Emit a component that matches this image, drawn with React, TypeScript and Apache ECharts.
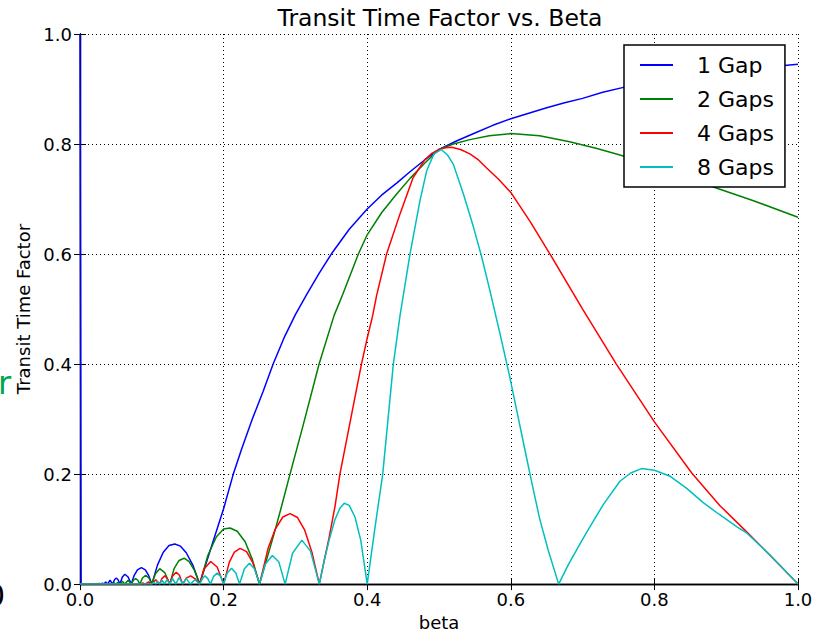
import React, { useEffect, useRef } from 'react';
import * as echarts from 'echarts';

const seriesNames = ['1 Gap', '2 Gaps', '4 Gaps', '8 Gaps'];
const seriesColors = ['#0000ff', '#008000', '#ff0000', '#00bfbf'];
const tickLabels = ['0.0', '0.2', '0.4', '0.6', '0.8', '1.0'];

// [beta, transit time factor]
const gap1: [number, number][] = [
  [0, 1], [0.0015, 0], [0.024, 0], [0.027, 0.001], [0.0294, 0], [0.0313, 0.002], [0.0333, 0],
  [0.0357, 0.004], [0.0385, 0], [0.0418, 0.007], [0.0455, 0], [0.048, 0.008], [0.0505, 0.011],
  [0.053, 0.008], [0.0556, 0], [0.059, 0.013], [0.0625, 0.018], [0.067, 0.013], [0.0714, 0],
  [0.0755, 0.016], [0.08, 0.026], [0.0855, 0.03], [0.091, 0.026], [0.0955, 0.016], [0.1, 0],
  [0.108, 0.035], [0.116, 0.058], [0.124, 0.07], [0.132, 0.073], [0.14, 0.069], [0.148, 0.057],
  [0.157, 0.035], [0.1667, 0], [0.175, 0.035], [0.185, 0.076], [0.2, 0.137], [0.2135, 0.2],
  [0.225, 0.245], [0.24, 0.3], [0.255, 0.35], [0.269, 0.4], [0.285, 0.45], [0.3, 0.49],
  [0.316, 0.527], [0.333, 0.565], [0.35, 0.6], [0.375, 0.645], [0.4, 0.682], [0.42, 0.707],
  [0.441, 0.729], [0.46, 0.75], [0.48, 0.771], [0.5, 0.79], [0.525, 0.806], [0.55, 0.82],
  [0.575, 0.834], [0.6, 0.846], [0.625, 0.856], [0.65, 0.866], [0.675, 0.875], [0.7, 0.883],
  [0.728, 0.894], [0.757, 0.903], [0.8, 0.913], [0.85, 0.924], [0.9, 0.932], [0.95, 0.939],
  [1, 0.945],
];

const gap2: [number, number][] = [
  [0, 0], [0.045, 0], [0.0475, 0.002], [0.05, 0], [0.053, 0.003], [0.0556, 0], [0.059, 0.005],
  [0.0625, 0], [0.067, 0.007], [0.0714, 0], [0.0745, 0.007], [0.0775, 0.01], [0.0805, 0.007],
  [0.0833, 0], [0.087, 0.011], [0.0915, 0.016], [0.096, 0.011], [0.1, 0], [0.105, 0.019],
  [0.111, 0.028], [0.118, 0.021], [0.125, 0], [0.131, 0.028], [0.138, 0.043], [0.145, 0.047],
  [0.152, 0.041], [0.159, 0.026], [0.1667, 0], [0.178, 0.052], [0.19, 0.086], [0.2, 0.1],
  [0.209, 0.102], [0.219, 0.096], [0.23, 0.077], [0.24, 0.045], [0.25, 0], [0.26, 0.045],
  [0.27, 0.09], [0.28, 0.138], [0.2925, 0.2], [0.31, 0.285], [0.333, 0.4], [0.3538, 0.488],
  [0.366, 0.527], [0.3877, 0.6], [0.4, 0.635], [0.42, 0.675], [0.441, 0.709], [0.46, 0.738],
  [0.48, 0.765], [0.5, 0.79], [0.52, 0.8], [0.543, 0.808], [0.57, 0.815], [0.6, 0.819],
  [0.64, 0.815], [0.682, 0.804], [0.72, 0.792], [0.752, 0.78], [0.8, 0.761], [0.85, 0.737],
  [0.877, 0.724], [0.938, 0.697], [1, 0.667],
];

const gap4: [number, number][] = [
  [0, 0], [0.085, 0], [0.0875, 0.002], [0.0909, 0], [0.0955, 0.004], [0.1, 0], [0.1055, 0.008],
  [0.111, 0], [0.114, 0.01], [0.118, 0.015], [0.1215, 0.01], [0.125, 0], [0.129, 0.015],
  [0.134, 0.0215], [0.1385, 0.016], [0.1429, 0], [0.148, 0.011], [0.154, 0.015], [0.16, 0.01],
  [0.1667, 0], [0.1725, 0.027], [0.182, 0.041], [0.191, 0.031], [0.2, 0], [0.208, 0.04],
  [0.215, 0.058], [0.223, 0.065], [0.232, 0.059], [0.241, 0.038], [0.25, 0], [0.262, 0.065],
  [0.272, 0.1], [0.2825, 0.122], [0.2925, 0.128], [0.303, 0.121], [0.313, 0.098], [0.323, 0.058],
  [0.3333, 0], [0.34, 0.042], [0.347, 0.085], [0.355, 0.14], [0.362, 0.2], [0.377, 0.3],
  [0.392, 0.4], [0.4, 0.447], [0.4076, 0.488], [0.413, 0.524], [0.427, 0.6], [0.4457, 0.673],
  [0.464, 0.739], [0.48, 0.771], [0.49, 0.783], [0.5, 0.79], [0.509, 0.793], [0.5177, 0.794],
  [0.53, 0.79], [0.543, 0.782], [0.555, 0.771], [0.566, 0.757], [0.583, 0.736], [0.6, 0.712],
  [0.627, 0.659], [0.6546, 0.6], [0.7, 0.5], [0.747, 0.4], [0.8, 0.295], [0.852, 0.202],
  [0.891, 0.143], [0.9285, 0.095], [0.965, 0.047], [1, 0],
];

const gap8: [number, number][] = [
  [0, 0], [0.1, 0], [0.1027, 0.003], [0.1053, 0], [0.108, 0.005], [0.111, 0], [0.1143, 0.007],
  [0.1176, 0], [0.1213, 0.008], [0.125, 0], [0.129, 0.01], [0.1333, 0], [0.138, 0.012],
  [0.1429, 0], [0.148, 0.01], [0.1538, 0], [0.16, 0.008], [0.1667, 0], [0.1705, 0.01],
  [0.174, 0.015], [0.178, 0.01], [0.1818, 0], [0.186, 0.014], [0.191, 0.02], [0.196, 0.014],
  [0.2, 0], [0.205, 0.02], [0.211, 0.029], [0.217, 0.02], [0.2222, 0], [0.229, 0.028],
  [0.236, 0.038], [0.243, 0.028], [0.25, 0], [0.258, 0.036], [0.268, 0.052], [0.277, 0.04],
  [0.2857, 0], [0.296, 0.056], [0.309, 0.08], [0.321, 0.06], [0.3333, 0], [0.34, 0.042],
  [0.347, 0.08], [0.355, 0.117], [0.362, 0.138], [0.368, 0.147], [0.375, 0.143], [0.383, 0.122],
  [0.391, 0.08], [0.4, 0], [0.41, 0.095], [0.4216, 0.2], [0.429, 0.3], [0.4364, 0.4],
  [0.4457, 0.488], [0.4596, 0.6], [0.4735, 0.697], [0.483, 0.752], [0.493, 0.782], [0.503, 0.79],
  [0.512, 0.78], [0.52, 0.763], [0.534, 0.709], [0.548, 0.649], [0.5594, 0.595], [0.571, 0.533],
  [0.585, 0.455], [0.598, 0.38], [0.61, 0.305], [0.62, 0.242], [0.63, 0.18], [0.64, 0.12],
  [0.652, 0.062], [0.6667, 0], [0.68, 0.035], [0.695, 0.07], [0.706, 0.095], [0.729, 0.145],
  [0.752, 0.187], [0.767, 0.202], [0.782, 0.21], [0.8, 0.207], [0.822, 0.196], [0.845, 0.174],
  [0.868, 0.148], [0.89, 0.127], [0.915, 0.104], [0.9285, 0.093], [0.961, 0.053], [1, 0],
];

const allSeries = [gap1, gap2, gap4, gap8];

export default function App() {
  const ref = useRef<HTMLDivElement>(null);
  useEffect(() => {
    document.body.style.margin = '0';
    const chart = echarts.init(ref.current as HTMLDivElement, null, { renderer: 'svg', width: 821, height: 636 });
    const font = '"DejaVu Sans", sans-serif';
    const frameLine = { show: true, lineStyle: { color: '#000', width: 1.3 } };
    const tick = { show: true, inside: true, length: 6, lineStyle: { color: '#000', width: 1 } };
    const grid = { show: true, lineStyle: { color: '#000', width: 1, type: [1, 3] } };
    const label = {
      fontFamily: font,
      fontSize: 18,
      color: '#000',
      formatter: (v: number) => tickLabels[Math.round(v / 0.2)],
    };
    chart.setOption({
      animation: false,
      backgroundColor: '#fff',
      grid: { left: 80, top: 34, width: 718, height: 559 },
      graphic: [
        {
          type: 'text',
          x: 440,
          y: 18,
          style: {
            text: 'Transit Time Factor vs. Beta',
            font: '23.5px "DejaVu Sans", sans-serif',
            fill: '#000',
            textAlign: 'center',
            textVerticalAlign: 'middle',
          },
        },
        {
          type: 'text',
          x: -2,
          y: 383,
          style: {
            text: 'r',
            font: '32px "DejaVu Sans", sans-serif',
            fill: '#00a651',
            textAlign: 'left',
            textVerticalAlign: 'middle',
          },
        },
        {
          type: 'text',
          x: -14,
          y: 595,
          style: {
            text: '0',
            font: '30px "DejaVu Sans", sans-serif',
            fill: '#000',
            textAlign: 'left',
            textVerticalAlign: 'middle',
          },
        },
      ],
      legend: {
        left: 624,
        top: 45,
        orient: 'vertical',
        icon: 'rect',
        itemWidth: 33,
        itemHeight: 2,
        itemGap: 10,
        padding: [8, 11, 8, 16],
        borderColor: '#000',
        borderWidth: 1.5,
        borderRadius: 0,
        backgroundColor: '#fff',
        textStyle: { fontFamily: font, fontSize: 22, color: '#000', lineHeight: 24, padding: [0, 0, 0, 19] },
        data: seriesNames,
      },
      xAxis: [
        {
          type: 'value', min: 0, max: 1, interval: 0.2, position: 'bottom',
          name: 'beta', nameLocation: 'middle', nameGap: 25,
          nameTextStyle: { fontFamily: font, fontSize: 18, color: '#000' },
          axisLine: frameLine, axisTick: tick, axisLabel: { ...label, margin: 6 }, splitLine: grid,
        },
        {
          type: 'value', min: 0, max: 1, interval: 0.2, position: 'top',
          axisLine: frameLine, axisTick: tick, axisLabel: { show: false }, splitLine: { show: false },
        },
      ],
      yAxis: [
        {
          type: 'value', min: 0, max: 1, interval: 0.2, position: 'left',
          name: 'Transit Time Factor', nameLocation: 'middle', nameGap: 38, nameRotate: 90,
          nameTextStyle: { fontFamily: font, fontSize: 18, color: '#000' },
          axisLine: frameLine, axisTick: tick, axisLabel: { ...label, margin: 8 }, splitLine: grid,
        },
        {
          type: 'value', min: 0, max: 1, interval: 0.2, position: 'right',
          axisLine: frameLine, axisTick: tick, axisLabel: { show: false }, splitLine: { show: false },
        },
      ],
      series: allSeries.map((d, i) => ({
        name: seriesNames[i],
        type: 'line',
        data: d,
        xAxisIndex: 0,
        yAxisIndex: 0,
        symbol: 'none',
        showSymbol: false,
        smooth: false,
        color: seriesColors[i],
        lineStyle: { color: seriesColors[i], width: 1.5 },
      })),
    });
    return () => chart.dispose();
  }, []);
  return <div ref={ref} style={{ width: 821, height: 636 }} />;
}
